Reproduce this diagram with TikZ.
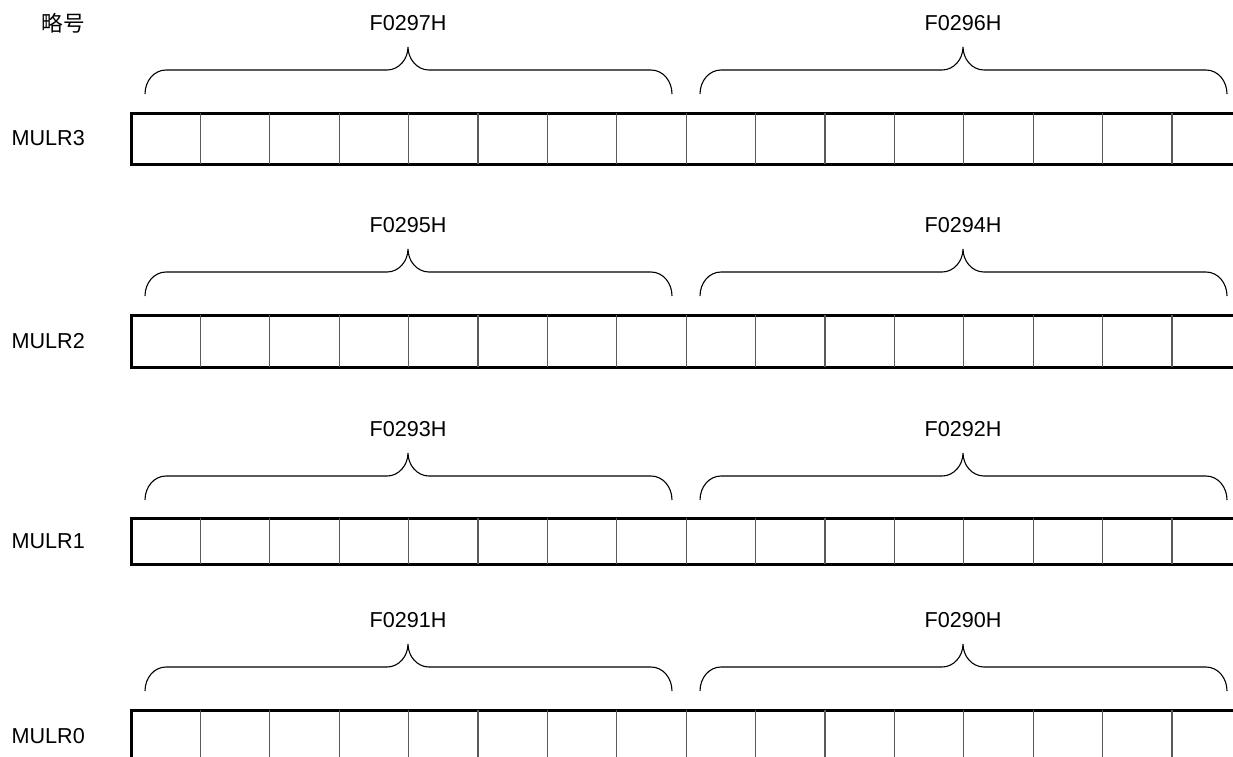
\documentclass[tikz,border=0pt]{standalone}
\usepackage{fontspec}
\setmainfont{Liberation Sans}
\newfontfamily\cjkfont{Noto Sans CJK SC}

\begin{document}
\begin{tikzpicture}[x=1pt, y=-1pt,
    regframe/.style={line width=3pt},
    bitline/.style={line width=1.1pt, black!65},
    bracebow/.style={line width=1.1pt},
    reglabel/.style={anchor=east, inner sep=0pt, font=\fontsize{21.6}{26}\selectfont},
    addrlabel/.style={inner sep=0pt, font=\fontsize{21.6}{26}\selectfont}]

    \useasboundingbox (0,0) rectangle (1233,756);
    \clip (0,0) rectangle (1233,756);

    % Tiêu đề cột
    \node[reglabel] (head) at (85,23) {\cjkfont 略号};

    % Các thanh ghi: trên / dưới / ngoặc / tên / địa chỉ cao / địa chỉ thấp
    \foreach \top/\bot/\by/\name/\hi/\lo in {
        113/164/70/MULR3/F0297H/F0296H,
        315/367/272/MULR2/F0295H/F0294H,
        518/564/476/MULR1/F0293H/F0292H,
        710/762/667/MULR0/F0291H/F0290H} {

        % Khung thanh ghi 16 bit
        \draw[regframe] (131,\top) rectangle (1241,\bot);
        \foreach \k in {1,...,15}
            \draw[bitline] (131+69.4*\k,\top) -- (131+69.4*\k,\bot);
        \node[reglabel] (lbl-\name) at (85,{(\top+\bot)/2}) {\name};

        % Ngoặc nhọn cho từng byte
        \foreach \dx/\addr in {0/\hi, 555/\lo} {
            \draw[bracebow] (145+\dx,\by+24)
                .. controls (145+\dx,\by+11) and (154+\dx,\by) .. (166+\dx,\by)
                -- (387+\dx,\by)
                .. controls (399+\dx,\by) and (408+\dx,\by-11) .. (408+\dx,\by-23)
                .. controls (408+\dx,\by-11) and (417+\dx,\by) .. (429+\dx,\by)
                -- (651+\dx,\by)
                .. controls (663+\dx,\by) and (672+\dx,\by+11) .. (672+\dx,\by+24);
            \node[addrlabel] (adr-\addr) at (408+\dx,\by-47) {\addr};
        }
    }
\end{tikzpicture}
\end{document}
